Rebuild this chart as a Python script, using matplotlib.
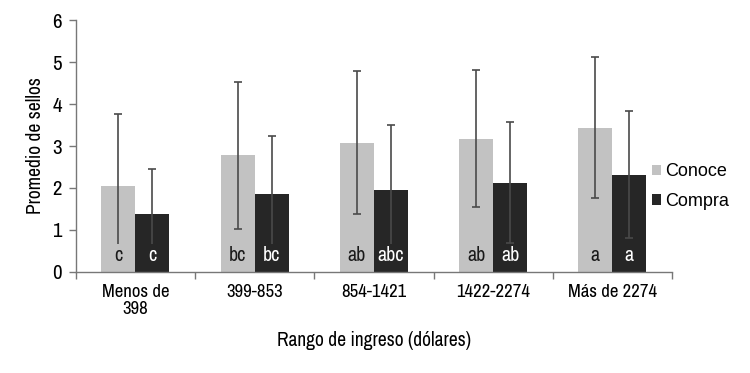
import matplotlib.pyplot as plt
import numpy as np
from matplotlib import font_manager

nombres = {f.name for f in font_manager.fontManager.ttflist}
candidatas = ['Liberation Sans Narrow', 'Arial Narrow', 'Archivo Narrow',
              'PT Sans Narrow', 'Roboto Condensed', 'Liberation Sans']
narrow = [c for c in candidatas if c in nombres][0]
plt.rcParams['font.family'] = [narrow, 'DejaVu Sans']

# datos
categorias = ['Menos de\n398', '399-853', '854-1421', '1422-2274', 'Más de 2274']
conoce = [2.05, 2.78, 3.08, 3.17, 3.44]
conoce_err = [1.71, 1.75, 1.71, 1.63, 1.67]
compra = [1.37, 1.85, 1.96, 2.13, 2.32]
compra_err = [1.08, 1.38, 1.55, 1.45, 1.52]
letras_conoce = ['c', 'bc', 'ab', 'ab', 'a']
letras_compra = ['c', 'bc', 'abc', 'ab', 'a']

fig = plt.figure(figsize=(7.5, 3.73), dpi=100)
ax = fig.add_axes([0.101, 0.271, 0.795, 0.675])

x = np.arange(len(categorias))
w = 0.285
gris = '#c2c2c2'
negro = '#262626'
err_color = '#4a4a4a'

ax.bar(x - w / 2, conoce, w, color=gris, label='Conoce', zorder=2)
ax.bar(x + w / 2, compra, w, color=negro, label='Compra', zorder=2)
ax.errorbar(x - w / 2, conoce, yerr=conoce_err, fmt='none', ecolor=err_color,
            elinewidth=1.2, capsize=3, capthick=1.2, zorder=3)
ax.errorbar(x + w / 2, compra, yerr=compra_err, fmt='none', ecolor=err_color,
            elinewidth=1.2, capsize=3, capthick=1.2, zorder=3)

# letras de significancia
for i in range(len(categorias)):
    ax.text(x[i] - w / 2, 0.38, letras_conoce[i], ha='center', va='center',
            fontsize=14.5, color='#1a1a1a', zorder=4,
            bbox=dict(boxstyle='square,pad=0.1', fc=gris, ec='none'))
    ax.text(x[i] + w / 2, 0.38, letras_compra[i], ha='center', va='center',
            fontsize=14.5, color='white', zorder=4,
            bbox=dict(boxstyle='square,pad=0.1', fc=negro, ec='none'))

ax.set_xlim(-0.5, len(categorias) - 0.5)
ax.set_ylim(0, 6)
ax.set_yticks(range(7))
ax.set_xticks(x)
ax.set_xticklabels(categorias, fontsize=13.5, linespacing=1.05)
ax.set_xticks(np.arange(-0.5, len(categorias)), minor=True)
ax.tick_params(axis='x', which='major', length=0, pad=9)
ax.tick_params(axis='x', which='minor', length=5, color='#777777', width=1)
ax.tick_params(axis='y', labelsize=15, length=5, color='#777777', width=1, pad=5)

for s in ['top', 'right']:
    ax.spines[s].set_visible(False)
for s in ['left', 'bottom']:
    ax.spines[s].set_color('#777777')
    ax.spines[s].set_linewidth(1)

ax.set_xlabel('Rango de ingreso (dólares)', fontsize=14, labelpad=10)
ax.set_ylabel('Promedio de sellos', fontsize=14, labelpad=5)

fig.legend(loc='center left', bbox_to_anchor=(0.848, 0.5), frameon=False,
           prop={'family': ['Liberation Sans', 'DejaVu Sans'], 'size': 13},
           handlelength=0.5, handleheight=0.5, handletextpad=0.2,
           labelspacing=0.7)

fig.savefig('out.png', dpi=100)
